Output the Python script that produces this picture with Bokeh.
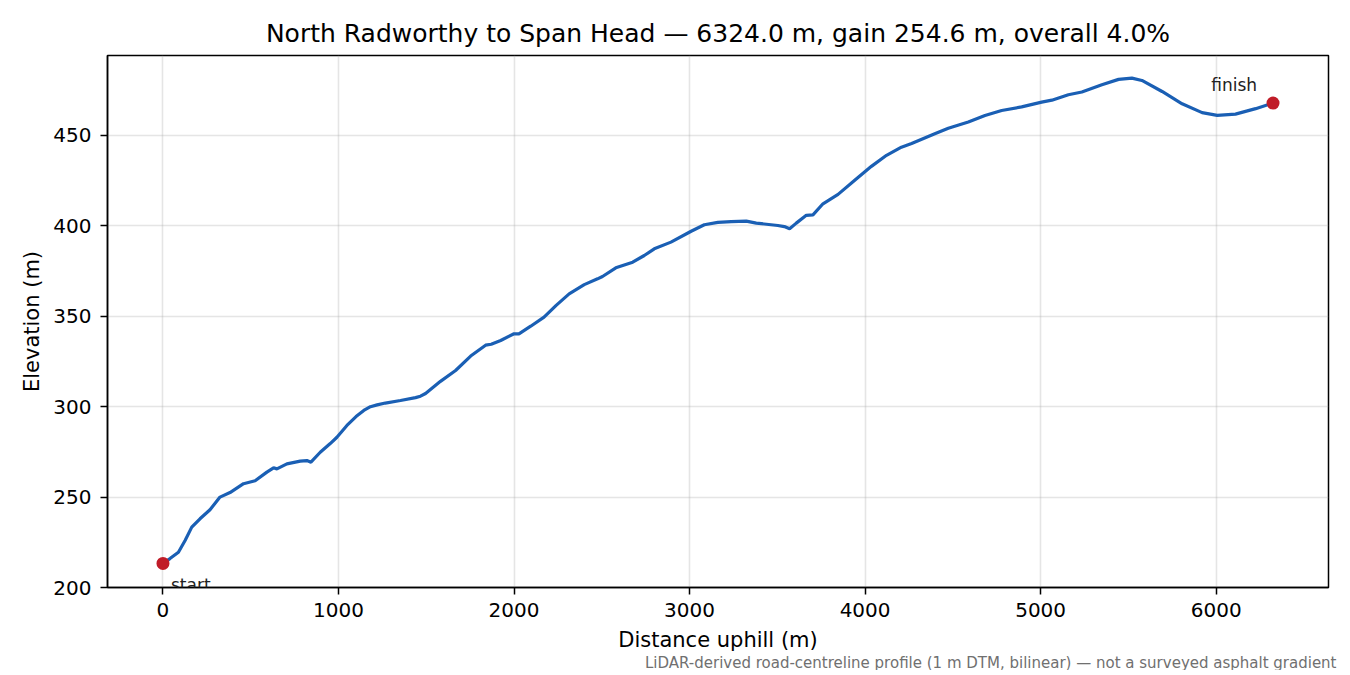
from bokeh.plotting import figure
from bokeh.models import ColumnDataSource, Range1d, Label, Title, FixedTicker
from bokeh.embed import file_html
from bokeh.resources import INLINE

# profile (distance along road, elevation)
distance = [0, 40, 88, 126, 164, 211, 268, 325, 382, 459, 525, 592, 630, 649, 706,
            782, 820, 843, 896, 953, 991, 1048, 1100, 1144, 1182, 1220, 1267, 1353,
            1439, 1467, 1496, 1581, 1667, 1753, 1838, 1870, 1924, 2000, 2028, 2095,
            2171, 2240, 2314, 2400, 2476, 2504, 2580, 2676, 2742, 2799, 2894, 3009,
            3084, 3161, 3237, 3323, 3380, 3503, 3540, 3570, 3608, 3665, 3703, 3760,
            3846, 3941, 4036, 4122, 4207, 4265, 4397, 4474, 4588, 4683, 4778, 4892,
            5006, 5064, 5158, 5235, 5349, 5444, 5520, 5577, 5692, 5806, 5920, 6006,
            6110, 6225, 6324]
elevation = [213.3, 216.0, 219.5, 226.0, 233.4, 238.0, 243.0, 250.0, 252.5, 257.4,
             259.0, 263.8, 266.2, 265.6, 268.4, 269.9, 270.2, 269.3, 274.8, 279.6,
             283.1, 289.6, 294.5, 297.9, 300.0, 301.0, 302.0, 303.4, 305.0, 305.8,
             307.3, 314.0, 320.0, 328.0, 334.0, 334.5, 336.6, 340.3, 340.3, 344.5,
             349.5, 356.0, 362.4, 367.5, 370.7, 372.0, 376.8, 379.9, 383.6, 387.3,
             391.0, 397.0, 400.6, 401.9, 402.3, 402.6, 401.5, 400.2, 399.6, 398.4,
             401.5, 405.8, 406.1, 412.2, 417.4, 425.2, 432.9, 439.0, 443.5, 445.5,
             450.9, 454.0, 457.4, 461.0, 463.8, 465.8, 468.4, 469.5, 472.5, 474.0,
             478.0, 481.0, 481.7, 480.4, 474.3, 467.5, 462.6, 461.1, 461.8, 464.8,
             467.9]
end_labels = ["start", "finish"]
x_ticks = [0, 1000, 2000, 3000, 4000, 5000, 6000]
y_ticks = [200, 250, 300, 350, 400, 450]

title_text = "North Radworthy to Span Head \u2014 6324.0 m, gain 254.6 m, overall 4.0%"
note_text = ("LiDAR-derived road-centreline profile (1 m DTM, bilinear) \u2014 "
             "not a surveyed asphalt gradient")

FONT = "DejaVu Sans"

source = ColumnDataSource(data=dict(dist=distance, elev=elevation))
ends = ColumnDataSource(data=dict(dist=[distance[0], distance[-1]],
                                  elev=[elevation[0], elevation[-1]]))

p = figure(
    width=1340,
    height=670,
    output_backend="svg",
    toolbar_location=None,
    x_range=Range1d(-316, 6640),
    y_range=Range1d(200, 494.2),
    x_axis_label="Distance uphill (m)",
    y_axis_label="Elevation (m)",
    min_border_left=107,
    min_border_right=12,
    min_border_top=55,
    min_border_bottom=83,
)

p.title.text = title_text
p.title.align = "center"
p.title.text_font = FONT
p.title.text_font_size = "25px"
p.title.text_font_style = "normal"
p.title.text_color = "black"
p.title.standoff = 15

p.line("dist", "elev", source=source, line_width=3.2, color="#1a5fb4")
p.scatter("dist", "elev", source=ends, size=13, color="#c01c28", line_color=None)

p.add_layout(Label(x=distance[0], y=elevation[0], text=end_labels[0],
                   x_offset=8, y_offset=-22, text_align="left",
                   text_baseline="alphabetic", text_font=FONT,
                   text_font_size="17px", text_color="#222222"))
p.add_layout(Label(x=distance[-1], y=elevation[-1], text=end_labels[1],
                   x_offset=-16, y_offset=18, text_align="right",
                   text_baseline="alphabetic", text_font=FONT,
                   text_font_size="17px", text_color="#222222"))

p.xaxis.ticker = FixedTicker(ticks=x_ticks)
p.yaxis.ticker = FixedTicker(ticks=y_ticks)

for ax in (p.xaxis[0], p.yaxis[0]):
    ax.axis_line_color = "black"
    ax.axis_line_width = 1.5
    ax.major_tick_line_color = "black"
    ax.major_tick_line_width = 1.5
    ax.major_tick_out = 7
    ax.major_tick_in = 0
    ax.minor_tick_line_color = None
    ax.major_label_text_font = FONT
    ax.major_label_text_font_size = "20px"
    ax.major_label_text_color = "black"
    ax.axis_label_text_font = FONT
    ax.axis_label_text_font_size = "21px"
    ax.axis_label_text_font_style = "normal"
    ax.axis_label_text_color = "black"

p.xaxis.major_label_standoff = 8
p.xaxis.axis_label_standoff = 8
p.yaxis.major_label_standoff = 9
p.yaxis.axis_label_standoff = 6

p.outline_line_color = "black"
p.outline_line_width = 1.5
p.grid.grid_line_color = "#b0b0b0"
p.grid.grid_line_alpha = 0.33
p.grid.grid_line_width = 1.6

p.add_layout(Title(text=note_text, align="right", text_font=FONT,
                   text_font_size="15px", text_font_style="normal",
                   text_color="#707070", offset=-8, standoff=-6), "below")

open("out.html", "w").write(file_html(p, INLINE))
